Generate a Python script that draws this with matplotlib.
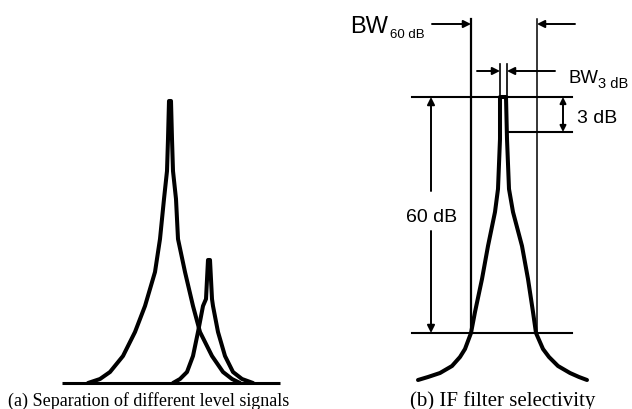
import matplotlib
matplotlib.use("Agg")
from matplotlib import pyplot as plt

# everything is traced in pixel units of the 632x410 picture, y grows downward

# (a) two signals of different level on a common baseline
big_x = [88, 100, 110, 123, 135, 145, 155, 160, 164, 167, 168, 169,
         171, 172, 173, 176, 178, 185, 193, 200, 212, 223, 232, 240]
big_y = [384, 380, 373, 357, 333, 307, 273, 240, 200, 172, 140, 102,
         102, 140, 172, 200, 240, 273, 307, 333, 357, 373, 380, 384]
small_x = [173, 180, 187, 193, 198, 203, 206, 208,
           210, 212, 213, 218, 225, 233, 242, 253]
small_y = [384, 380, 373, 357, 333, 307, 300, 261,
           261, 300, 307, 333, 357, 373, 380, 384]
base_x = [62, 280]
base_y = [384, 384]

# (b) IF filter response
filt_x = [418, 428, 440, 452, 460, 465, 471, 475, 482, 488, 495, 498, 500, 500,
          506, 507, 509, 513, 522, 528, 533, 536, 543, 549, 558, 570, 579, 587]
filt_y = [381, 378, 374, 367, 358, 350, 334, 313, 280, 247, 213, 190, 140, 98,
          98, 140, 190, 213, 247, 280, 313, 334, 350, 358, 367, 374, 378, 381]

ref_top = 98      # 0 dB reference line
ref_3db = 133     # -3 dB line
ref_60db = 334    # -60 dB line
bw60_left, bw60_right = 471, 537
bw3_left, bw3_right = 500, 507

captions = ["(a) Separation of different level signals", "(b) IF filter selectivity"]

fig = plt.figure(figsize=(6.32, 4.10), dpi=100)
ax = fig.add_axes([0, 0, 1, 1])
ax.set_xlim(0, 632)
ax.set_ylim(410, 0)
ax.axis("off")

thick = 2.9
thin = 1.5
sans = "Liberation Sans"

# --- (a)
ax.plot(base_x, base_y, color="black", lw=2.2, solid_capstyle="butt")
ax.plot(big_x, big_y, color="black", lw=thick, solid_joinstyle="round", solid_capstyle="round")
ax.plot(small_x, small_y, color="black", lw=thick, solid_joinstyle="round", solid_capstyle="round")

# --- (b)
ax.plot(filt_x, filt_y, color="black", lw=thick, solid_joinstyle="round", solid_capstyle="round")
ax.plot([412, 572], [ref_top, ref_top], color="black", lw=thin)
ax.plot([bw3_right + 1, 572], [ref_3db, ref_3db], color="black", lw=thin)
ax.plot([412, 572], [ref_60db, ref_60db], color="black", lw=thin)

# bandwidth markers
ax.plot([bw60_left, bw60_left], [20, ref_60db], color="black", lw=1.6)
ax.plot([bw60_right, bw60_right], [20, ref_60db], color="black", lw=1.1)
ax.plot([bw3_left, bw3_left], [65, ref_top], color="black", lw=1.2)
ax.plot([bw3_right, bw3_right], [65, ref_top], color="black", lw=1.2)

arr = dict(arrowstyle="-|>", color="black", lw=1.4, mutation_scale=11, shrinkA=0, shrinkB=0)
dbl = dict(arrowstyle="<|-|>", color="black", lw=1.4, mutation_scale=9, shrinkA=0, shrinkB=0)

ax.annotate("", xy=(bw60_left, 25), xytext=(432, 25), arrowprops=arr)
ax.annotate("", xy=(bw60_right, 25), xytext=(575, 25), arrowprops=arr)
ax.annotate("", xy=(bw3_left, 72), xytext=(477, 72), arrowprops=arr)
ax.annotate("", xy=(bw3_right, 72), xytext=(555, 72), arrowprops=arr)

# 60 dB span arrow, split around its label
ax.annotate("", xy=(431, ref_top), xytext=(431, 192), arrowprops=arr)
ax.annotate("", xy=(431, ref_60db), xytext=(431, 232), arrowprops=arr)
# 3 dB span arrow
ax.annotate("", xy=(563, ref_top), xytext=(563, ref_3db), arrowprops=dbl)

ax.text(350, 33, "BW", fontsize=17, family=sans, va="baseline", ha="left")
ax.text(390, 38, "60 dB", fontsize=9.5, family=sans, va="baseline", ha="left")
ax.text(568, 83, "BW", fontsize=13.4, family=sans, va="baseline", ha="left")
ax.text(598, 88, "3 dB", fontsize=10.5, family=sans, va="baseline", ha="left")
ax.text(432, 222, "60 dB", fontsize=14, family=sans, va="baseline", ha="center")
ax.text(577, 123, "3 dB", fontsize=14, family=sans, va="baseline", ha="left")

# --- captions
ax.text(8, 406, captions[0], fontsize=13, family="Liberation Serif", va="baseline", ha="left")
ax.text(410, 406, captions[1], fontsize=15, family="Liberation Serif", va="baseline", ha="left")

fig.savefig("out.png", dpi=100)
